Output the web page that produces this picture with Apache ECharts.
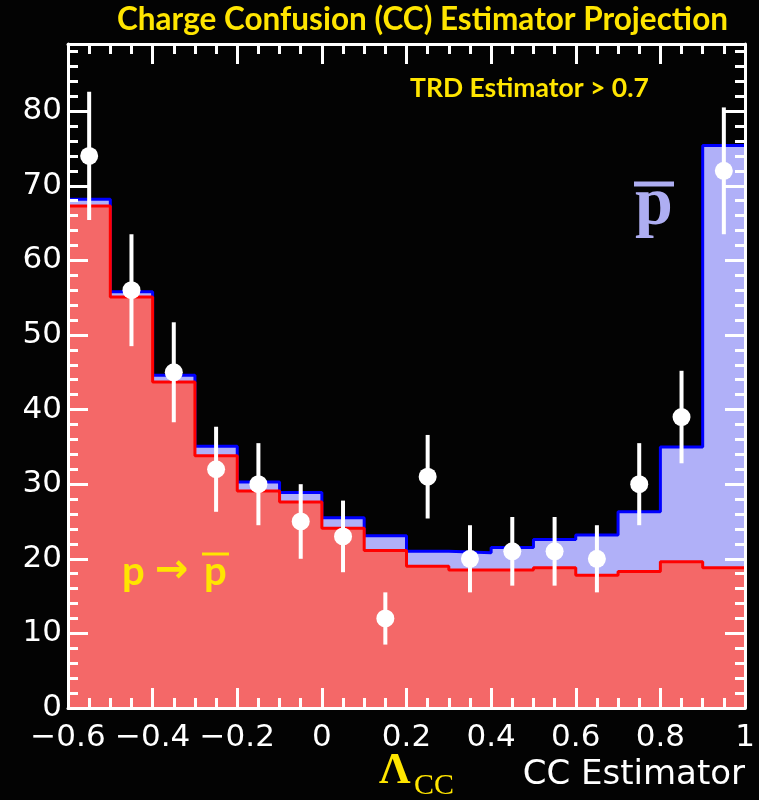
<!DOCTYPE html>
<html>
<head>
<meta charset="utf-8">
<script src="https://cdn.jsdelivr.net/npm/echarts@6/dist/echarts.min.js"></script>
<style>
html, body { margin: 0; background: #030303; }
#main { width: 759px; height: 800px; }
</style>
</head>
<body>
<div id="main"></div>
<script>
// bin edges of the CC estimator histogram
var binEdges = [-0.6, -0.5, -0.4, -0.3, -0.2, -0.1, 0, 0.1, 0.2, 0.3, 0.4, 0.5, 0.6, 0.7, 0.8, 0.9, 1.0];
// charge confused protons (red) and total p + pbar template (blue)
var ccValues = [67.3, 55.1, 43.7, 33.8, 29.1, 27.6, 24.1, 21.1, 19.0, 18.5, 18.5, 18.8, 17.8, 18.3, 19.6, 18.8];
var totalValues = [68.2, 55.8, 44.6, 35.1, 30.3, 28.9, 25.5, 23.1, 21.0, 20.8, 21.5, 22.6, 23.2, 26.3, 35.0, 75.4];
// data points
var binCenters = [-0.55, -0.45, -0.35, -0.25, -0.15, -0.05, 0.05, 0.15, 0.25, 0.35, 0.45, 0.55, 0.65, 0.75, 0.85, 0.95];
var dataCounts = [74, 56, 45, 32, 30, 25, 23, 12, 31, 20, 21, 21, 20, 30, 39, 72];
var dataErrors = [8.6, 7.5, 6.7, 5.7, 5.5, 5.0, 4.8, 3.5, 5.6, 4.5, 4.6, 4.6, 4.5, 5.5, 6.2, 8.5];
var xTicks = { min: -0.6, max: 1, interval: 0.2 };
var yTicks = { min: 0, max: 89, interval: 10 };

var chart = echarts.init(document.getElementById('main'), null, { renderer: 'canvas' });

function stepData(values) {
  return binEdges.map(function (x, i) {
    return [x, values[Math.min(i, values.length - 1)]];
  });
}

var white = '#ffffff';
var yellow = '#ffe500';

function xAxisCfg(pos, labels) {
  return {
    type: 'value', position: pos,
    min: xTicks.min, max: xTicks.max, interval: xTicks.interval,
    z: 10,
    axisLine: { show: true, onZero: false, lineStyle: { color: white, width: 3 } },
    axisTick: { show: true, inside: true, length: 20, lineStyle: { color: white, width: 3 } },
    minorTick: { show: true, splitNumber: 4, length: 10, lineStyle: { color: white, width: 3 } },
    splitLine: { show: false },
    axisLabel: {
      show: labels, color: white, fontSize: 31, fontFamily: 'DejaVu Sans', margin: 14,
      formatter: function (v) {
        var s = String(Math.round(v * 10) / 10);
        return s.replace('-', '\u2212');
      }
    }
  };
}

function yAxisCfg(pos, labels) {
  return {
    type: 'value', position: pos,
    min: yTicks.min, max: yTicks.max, interval: yTicks.interval,
    z: 10,
    axisLine: { show: true, onZero: false, lineStyle: { color: white, width: 3 } },
    axisTick: { show: true, inside: true, length: 20, lineStyle: { color: white, width: 3 } },
    minorTick: { show: true, splitNumber: 5, length: 10, lineStyle: { color: white, width: 3 } },
    splitLine: { show: false },
    axisLabel: {
      show: labels, color: white, fontSize: 31, fontFamily: 'DejaVu Sans', margin: 6,
      showMaxLabel: false
    }
  };
}

var option = {
  backgroundColor: '#030303',
  animation: false,
  grid: { left: 68, right: 14, top: 44, bottom: 92, outerBoundsMode: 'none' },
  xAxis: [xAxisCfg('bottom', true), xAxisCfg('top', false)],
  yAxis: [yAxisCfg('left', true), yAxisCfg('right', false)],
  series: [
    {
      name: 'total', type: 'line', step: 'end', showSymbol: false, z: 2,
      data: stepData(totalValues),
      lineStyle: { color: '#0000ff', width: 3 },
      areaStyle: { color: '#b0b0f8', opacity: 1 }
    },
    {
      name: 'cc', type: 'line', step: 'end', showSymbol: false, z: 3,
      data: stepData(ccValues),
      lineStyle: { color: '#ff0000', width: 3 },
      areaStyle: { color: '#f46868', opacity: 1 }
    },
    {
      name: 'data', type: 'custom', z: 5,
      data: binCenters.map(function (x, i) { return [x, dataCounts[i], dataErrors[i]]; }),
      encode: { x: 0, y: 1 },
      renderItem: function (params, api) {
        var x = api.value(0), y = api.value(1), e = api.value(2);
        var top = api.coord([x, y + e]);
        var bot = api.coord([x, y - e]);
        var c = api.coord([x, y]);
        return {
          type: 'group',
          children: [
            { type: 'line', shape: { x1: top[0], y1: top[1], x2: bot[0], y2: bot[1] }, style: { stroke: white, lineWidth: 4 } },
            { type: 'circle', shape: { cx: c[0], cy: c[1], r: 9 }, style: { fill: white } }
          ]
        };
      }
    }
  ],
  graphic: [
    { type: 'text', x: 728, y: 20, z: 20, style: { text: 'Charge Confusion (CC) Estimator Projection', fill: yellow, font: 'bold 31.5px Lato', textAlign: 'right', textVerticalAlign: 'middle' } },
    { type: 'text', x: 410, y: 88, z: 20, style: { text: 'TRD Estimator > 0.7', fill: yellow, font: 'bold 26.5px Lato', textAlign: 'left', textVerticalAlign: 'middle' } },
    // pbar label
    { type: 'text', x: 635, y: 206, z: 20, style: { text: 'p', fill: '#aeaef2', font: 'bold 68px "Liberation Serif"', textAlign: 'left', textVerticalAlign: 'middle' } },
    { type: 'line', z: 20, shape: { x1: 634, y1: 184, x2: 674, y2: 184 }, style: { stroke: '#aeaef2', lineWidth: 5 } },
    // p -> pbar label
    { type: 'text', x: 122, y: 572, z: 20, style: { text: 'p', fill: yellow, font: 'bold 40px Lato', textAlign: 'left', textVerticalAlign: 'middle' } },
    { type: 'text', x: 155, y: 572, z: 20, style: { text: '\u2192', fill: yellow, font: 'bold 40px "DejaVu Sans"', textAlign: 'left', textVerticalAlign: 'middle' } },
    { type: 'text', x: 204, y: 572, z: 20, style: { text: 'p', fill: yellow, font: 'bold 40px Lato', textAlign: 'left', textVerticalAlign: 'middle' } },
    { type: 'line', z: 20, shape: { x1: 202, y1: 554, x2: 229, y2: 554 }, style: { stroke: yellow, lineWidth: 3 } },
    // axis title
    { type: 'text', x: 379, y: 772, z: 20, style: { text: '\u039b', fill: yellow, font: 'bold 44px "Liberation Serif"', textAlign: 'left', textVerticalAlign: 'middle' } },
    { type: 'text', x: 414, y: 786, z: 20, style: { text: 'CC', fill: yellow, font: '30px "Liberation Serif"', textAlign: 'left', textVerticalAlign: 'middle' } },
    { type: 'text', x: 745, y: 775, z: 20, style: { text: 'CC Estimator', fill: white, font: '34px "DejaVu Sans"', textAlign: 'right', textVerticalAlign: 'middle' } }
  ]
};

chart.setOption(option);
</script>
</body>
</html>
